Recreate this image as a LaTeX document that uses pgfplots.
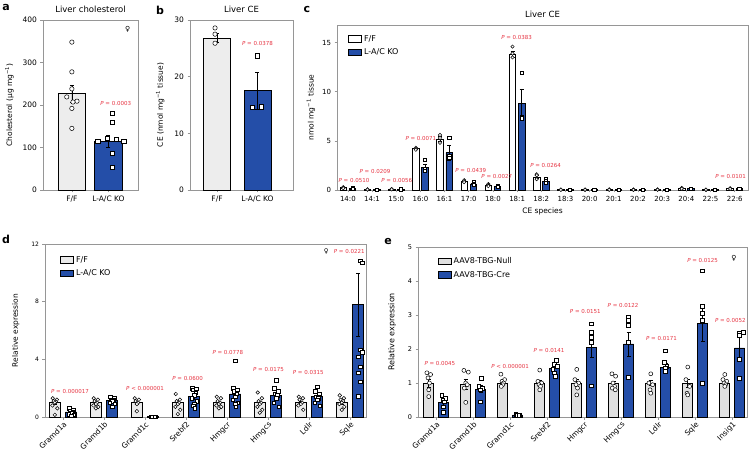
\documentclass[border=0pt]{standalone}
\usepackage{fontspec}
\setmainfont{DejaVu Sans}
\usepackage{pgfplots}
\pgfplotsset{compat=1.18}

\definecolor{kblue}{RGB}{36,78,168}
\definecolor{pred}{RGB}{230,52,66}
\definecolor{frame}{RGB}{150,150,150}
\newcommand{\fs}[1]{\fontsize{#1}{#1}\selectfont}

\tikzset{ptext/.style={font=\fs{5.5}, text=pred, inner sep=0pt}}

\pgfplotsset{
  panel/.style={
    scale only axis, anchor=south west, clip=false, ymin=0,
    axis line style={frame, line width=0.6pt},
    tick style={frame, line width=0.6pt},
    tick align=outside, major tick length=2.5pt,
    xtick pos=bottom, ytick pos=left,
    /pgf/number format/assume math mode=true,
    yticklabel style={font=\fs{7.5}},
    xticklabel style={font=\fs{7.5}},
    ylabel style={font=\fs{7.5}},
    title style={font=\fs{8.5}, yshift=-2pt},
  },
  bars/.style 2 args={ybar, bar shift=0pt, bar width=#2, fill=#1, draw=black,
    line width=0.8pt,
    error bars/y dir=both, error bars/y explicit,
    error bars/error bar style={black, line width=0.6pt},
    error bars/error mark options={black, mark size=2pt, line width=0.6pt, rotate=90}},
  wpt/.style={only marks, black, mark=*, mark size=#1,
    mark options={fill=white, draw=black, line width=0.5pt}},
  kpt/.style={only marks, black, mark=square*, mark size=#1,
    mark options={fill=white, draw=black, line width=0.5pt}},
  barleg/.style={
    legend image code/.code={\draw[##1] (0pt,-3pt) rectangle (13pt,3.5pt);},
    legend cell align=left,
    legend style={draw=none, fill=none, anchor=north west, font=\fs{8},
      row sep=2pt, inner sep=0pt}},
}

\begin{document}
\begin{tikzpicture}
\path[use as bounding box] (0,0) rectangle (750pt,453pt);

% panel letters
\node[font=\bfseries\fs{11}] at (6pt,445pt) {a};
\node[font=\bfseries\fs{11}] at (160pt,443pt) {b};
\node[font=\bfseries\fs{11}] at (307pt,443pt) {c};
\node[font=\bfseries\fs{11}] at (6pt,214pt) {d};
\node[font=\bfseries\fs{11}] at (388pt,212pt) {e};

% ---------- a ----------
\begin{axis}[panel, at={(43pt,263pt)}, width=95pt, height=170pt,
  xmin=-0.79, xmax=1.81, ymax=400, ytick={0,100,200,300,400},
  xtick={0,1}, xticklabels={F/F, L-A/C KO},
  title={Liver cholesterol}, ylabel={Cholesterol (µg mg\textsuperscript{−1})},
  ylabel style={xshift=0pt, yshift=2pt}]
\addplot[bars={black!7}{0.74}] coordinates {(0,227) +- (0,20)};
\addplot[bars={kblue}{0.74}] coordinates {(1,115) +- (0,14)};
\addplot[wpt=2.2pt] coordinates {(0,348)(0,278)(0,238)(-0.14,219)(0.14,209)(0.03,207)(0,192)(0,145)};
\addplot[kpt=2.1pt] coordinates {(1.1,180)(1.1,159)(0.96,122)(1.21,119)(1.42,115)(0.71,115)(1.1,87)(1.1,54)};
\node[ptext] at (1.2,204) {\textit{P} = 0.0003};
\node[font=\fs{7}] at (1.53,378) {♀};
\end{axis}

% ---------- b ----------
\begin{axis}[panel, at={(190pt,263pt)}, width=103pt, height=170pt,
  xmin=-0.67, xmax=1.88, ymax=30, ytick={0,10,20,30},
  xtick={0,1}, xticklabels={F/F, L-A/C KO},
  title={Liver CE}, ylabel={CE (nmol mg\textsuperscript{−1} tissue)},
  ylabel style={yshift=3pt}]
\addplot[bars={black!7}{0.67}] coordinates {(0,26.8) +- (0,0.8)};
\addplot[bars={kblue}{0.67}] coordinates {(1,17.5) +- (0,3.2)};
\addplot[wpt=2.2pt] coordinates {(-0.05,28.6)(-0.05,27.5)(-0.05,25.9)};
\addplot[kpt=2.1pt] coordinates {(1.0,23.7)(0.88,14.6)(1.1,14.7)};
\node[ptext] at (1,25.8) {\textit{P} = 0.0378};
\end{axis}

% ---------- c ----------
\begin{axis}[panel, barleg, at={(337pt,263pt)}, width=411pt, height=165pt,
  xmin=-0.45, xmax=16.55, ymax=16.8, ytick={0,5,10,15},
  xtick={0,...,16},
  xticklabels={14:0,14:1,15:0,16:0,16:1,17:0,18:0,18:1,18:2,18:3,20:0,20:1,20:2,20:3,20:4,22:5,22:6},
  xticklabel style={font=\fs{7}}, yticklabel style={font=\fs{7}},
  title={Liver CE}, xlabel={CE species}, xlabel style={font=\fs{7.5}},
  ylabel={nmol mg\textsuperscript{−1} tissue},
  legend style={at={(0.027,0.95)}}]
\addlegendimage{fill=white, draw=black, line width=0.8pt}
\addlegendentry{F/F}
\addlegendimage{fill=kblue, draw=black, line width=0.8pt}
\addlegendentry{L-A/C KO}
\addplot[forget plot, bars={white}{0.27}] coordinates {
(-0.19,0.22) +- (0,0.03) (0.81,0.05) +- (0,0.01) (1.81,0.08) +- (0,0.01)
(2.81,4.2) +- (0,0.06) (3.81,5.2) +- (0,0.25) (4.81,0.9) +- (0,0.06)
(5.81,0.5) +- (0,0.05) (6.81,13.8) +- (0,0.3) (7.81,1.3) +- (0,0.15)
(8.81,0.03) +- (0,0.01) (9.81,0.03) +- (0,0.01) (10.81,0.04) +- (0,0.01)
(11.81,0.03) +- (0,0.01) (12.81,0.04) +- (0,0.01) (13.81,0.15) +- (0,0.02)
(14.81,0.02) +- (0,0.01) (15.81,0.15) +- (0,0.02)};
\addplot[forget plot, bars={kblue}{0.27}] coordinates {
(0.19,0.15) +- (0,0.03) (1.19,0.05) +- (0,0.01) (2.19,0.08) +- (0,0.01)
(3.19,2.3) +- (0,0.35) (4.19,3.8) +- (0,0.8) (5.19,0.62) +- (0,0.08)
(6.19,0.4) +- (0,0.03) (7.19,8.8) +- (0,1.5) (8.19,0.9) +- (0,0.12)
(9.19,0.04) +- (0,0.01) (10.19,0.04) +- (0,0.01) (11.19,0.05) +- (0,0.01)
(12.19,0.03) +- (0,0.01) (13.19,0.04) +- (0,0.01) (14.19,0.12) +- (0,0.02)
(15.19,0.03) +- (0,0.01) (16.19,0.12) +- (0,0.02)};
\addplot[forget plot, wpt=1.7pt] coordinates {
(-0.19,0.28)(-0.19,0.22)(-0.19,0.18) (0.81,0.06)(0.81,0.05)(0.81,0.04)
(1.81,0.1)(1.81,0.08)(1.81,0.07) (2.81,4.3)(2.81,4.2)(2.81,4.1)
(3.81,5.6)(3.81,5.3)(3.81,4.8) (4.81,1.0)(4.81,0.9)(4.81,0.8)
(5.81,0.6)(5.81,0.5)(5.81,0.4) (6.81,14.6)(6.81,13.9)(6.81,13.5)
(7.81,1.6)(7.81,1.5)(7.81,1.1) (8.81,0.04)(8.81,0.03)(8.81,0.02)
(9.81,0.04)(9.81,0.03)(9.81,0.02) (10.81,0.05)(10.81,0.04)(10.81,0.03)
(11.81,0.04)(11.81,0.03)(11.81,0.02) (12.81,0.05)(12.81,0.04)(12.81,0.03)
(13.81,0.2)(13.81,0.15)(13.81,0.12) (14.81,0.03)(14.81,0.02)(14.81,0.02)
(15.81,0.18)(15.81,0.15)(15.81,0.12)};
\addplot[forget plot, kpt=1.6pt] coordinates {
(0.19,0.2)(0.19,0.15)(0.19,0.1) (1.19,0.06)(1.19,0.05)(1.19,0.04)
(2.19,0.1)(2.19,0.08)(2.19,0.07) (3.19,3.1)(3.19,2.2)(3.19,2.0)
(4.19,5.3)(4.19,3.5)(4.19,3.3) (5.19,0.8)(5.19,0.6)(5.19,0.5)
(6.19,0.45)(6.19,0.4)(6.19,0.35) (7.19,11.9)(7.19,7.4)(7.19,7.3)
(8.19,1.1)(8.19,0.9)(8.19,0.7) (9.19,0.05)(9.19,0.04)(9.19,0.03)
(10.19,0.05)(10.19,0.04)(10.19,0.03) (11.19,0.06)(11.19,0.05)(11.19,0.04)
(12.19,0.04)(12.19,0.03)(12.19,0.02) (13.19,0.05)(13.19,0.04)(13.19,0.03)
(14.19,0.15)(14.19,0.12)(14.19,0.1) (15.19,0.04)(15.19,0.03)(15.19,0.02)
(16.19,0.15)(16.19,0.12)(16.19,0.1)};
\node[ptext] at (0.25,1.0) {\textit{P} = 0.0510};
\node[ptext] at (1.12,1.84) {\textit{P} = 0.0209};
\node[ptext] at (2.02,0.92) {\textit{P} = 0.0056};
\node[ptext] at (3.02,5.2) {\textit{P} = 0.0071};
\node[ptext] at (5.08,1.94) {\textit{P} = 0.0439};
\node[ptext] at (6.16,1.33) {\textit{P} = 0.0027};
\node[ptext] at (6.98,15.5) {\textit{P} = 0.0383};
\node[ptext] at (8.18,2.45) {\textit{P} = 0.0264};
\node[ptext] at (15.83,1.33) {\textit{P} = 0.0101};
\end{axis}

% ---------- d ----------
\begin{axis}[panel, barleg, at={(45pt,36pt)}, width=321pt, height=173pt,
  xmin=-0.44, xmax=7.39, ymax=12, ytick={0,4,8,12},
  xtick={0,...,7},
  xticklabels={Gramd1a,Gramd1b,Gramd1c,Srebf2,Hmgcr,Hmgcs,Ldlr,Sqle},
  xticklabel style={font=\fs{7.5}, rotate=45, anchor=north east, inner sep=1pt},
  yticklabel style={font=\fs{6}},
  ylabel={Relative expression}, ylabel style={yshift=5pt},
  legend style={at={(0.047,0.94)}}]
\addlegendimage{fill=black!8, draw=black, line width=0.8pt}
\addlegendentry{F/F}
\addlegendimage{fill=kblue, draw=black, line width=0.8pt}
\addlegendentry{L-A/C KO}
\addplot[forget plot, bars={black!8}{0.27}] coordinates {
(-0.2,1.0) +- (0,0.12) (0.8,1.0) +- (0,0.08) (1.8,1.0) +- (0,0.1)
(2.8,1.0) +- (0,0.15) (3.8,1.0) +- (0,0.1) (4.8,1.0) +- (0,0.12)
(5.8,1.0) +- (0,0.08) (6.8,1.0) +- (0,0.12)};
\addplot[forget plot, bars={kblue}{0.27}] coordinates {
(0.2,0.35) +- (0,0.06) (1.2,1.15) +- (0,0.08) (2.2,0.02) +- (0,0.01)
(3.2,1.4) +- (0,0.15) (4.2,1.6) +- (0,0.3) (5.2,1.5) +- (0,0.17)
(6.2,1.4) +- (0,0.12) (7.2,7.8) +- (0,2.2)};
\addplot[forget plot, wpt=1.8pt] coordinates {
(-0.25,1.3)(-0.15,1.2)(-0.23,1.1)(-0.17,1.05)(-0.2,1.0)(-0.26,0.8)(-0.14,0.6)(-0.2,0.15)
(0.75,1.3)(0.85,1.2)(0.77,1.1)(0.83,1.0)(0.8,0.9)(0.74,0.8)(0.86,0.7)(0.8,0.6)
(1.75,1.3)(1.85,1.2)(1.77,1.1)(1.83,1.0)(1.8,0.9)(1.8,0.4)
(2.75,1.6)(2.85,1.2)(2.77,1.1)(2.83,1.0)(2.8,0.9)(2.74,0.7)(2.86,0.5)(2.8,0.2)
(3.75,1.4)(3.85,1.3)(3.77,1.1)(3.83,1.0)(3.8,0.9)(3.74,0.8)(3.86,0.7)(3.8,0.6)
(4.75,1.7)(4.85,1.3)(4.77,1.1)(4.83,1.0)(4.8,0.9)(4.74,0.7)(4.86,0.5)(4.8,0.3)
(5.75,1.4)(5.85,1.3)(5.77,1.2)(5.83,1.0)(5.8,0.9)(5.74,0.8)(5.86,0.5)
(6.75,1.5)(6.85,1.3)(6.77,1.2)(6.83,1.1)(6.8,1.0)(6.74,0.9)(6.86,0.7)(6.8,0.5)};
\addplot[forget plot, kpt=1.7pt] coordinates {
(0.15,0.6)(0.25,0.5)(0.17,0.4)(0.23,0.35)(0.2,0.3)(0.14,0.2)(0.26,0.15)(0.2,0.1)
(1.15,1.4)(1.25,1.3)(1.17,1.2)(1.23,1.15)(1.2,1.1)(1.14,1.0)(1.26,0.9)(1.2,0.7)
(2.15,0.03)(2.25,0.02)(2.2,0.02)(2.17,0.01)(2.23,0.03)
(3.15,2.0)(3.25,1.95)(3.17,1.9)(3.23,1.7)(3.2,1.5)(3.14,1.3)(3.26,1.1)(3.2,0.9)(3.18,0.8)(3.22,0.6)
(4.2,3.9)(4.15,2.0)(4.25,1.9)(4.17,1.8)(4.23,1.6)(4.2,1.4)(4.14,1.2)(4.26,1.0)(4.2,0.9)(4.22,0.7)
(5.2,2.55)(5.15,2.0)(5.25,1.8)(5.17,1.6)(5.23,1.5)(5.2,1.3)(5.14,1.0)(5.26,0.7)
(6.2,2.1)(6.15,1.8)(6.25,1.6)(6.17,1.4)(6.23,1.3)(6.2,1.2)(6.14,1.0)(6.26,0.8)
(7.25,10.85)(7.3,10.7)(7.25,4.65)(7.3,4.5)(7.2,4.2)(7.25,3.5)(7.2,3.05)(7.25,2.45)(7.2,1.45)};
\node[ptext] at (0.17,1.8) {\textit{P} = 0.000017};
\node[ptext] at (2.0,1.95) {\textit{P} < 0.000001};
\node[ptext] at (3.04,2.7) {\textit{P} = 0.0600};
\node[ptext] at (4.02,4.5) {\textit{P} = 0.0778};
\node[ptext] at (5.01,3.3) {\textit{P} = 0.0175};
\node[ptext] at (5.98,3.1) {\textit{P} = 0.0315};
\node[ptext] at (6.98,11.5) {\textit{P} = 0.0221};
\node[font=\fs{6.5}] at (6.42,11.5) {♀};
\end{axis}

% ---------- e ----------
\begin{axis}[panel, barleg, at={(418pt,36pt)}, width=329pt, height=170pt,
  xmin=-0.49, xmax=8.4, ymax=5, ytick={0,1,2,3,4,5},
  xtick={0,...,8},
  xticklabels={Gramd1a,Gramd1b,Gramd1c,Srebf2,Hmgcr,Hmgcs,Ldlr,Sqle,Insig1},
  xticklabel style={font=\fs{7.5}, rotate=45, anchor=north east, inner sep=1pt},
  yticklabel style={font=\fs{6.5}},
  ylabel={Relative expression}, ylabel style={font=\fs{8}, yshift=5pt},
  legend style={at={(0.06,0.95)}}]
\addlegendimage{fill=black!12, draw=black, line width=0.8pt}
\addlegendentry{AAV8-TBG-Null}
\addlegendimage{fill=kblue, draw=black, line width=0.8pt}
\addlegendentry{AAV8-TBG-Cre}
\addplot[forget plot, bars={black!12}{0.27}] coordinates {
(-0.2,1.0) +- (0,0.12) (0.8,0.97) +- (0,0.15) (1.8,1.0) +- (0,0.05)
(2.8,1.0) +- (0,0.08) (3.8,1.0) +- (0,0.1) (4.8,0.98) +- (0,0.07)
(5.8,1.0) +- (0,0.08) (6.8,0.98) +- (0,0.12) (7.8,1.0) +- (0,0.05)};
\addplot[forget plot, bars={kblue}{0.27}] coordinates {
(0.2,0.42) +- (0,0.07) (1.2,0.82) +- (0,0.1) (2.2,0.06) +- (0,0.01)
(3.2,1.43) +- (0,0.08) (4.2,2.05) +- (0,0.3) (5.2,2.15) +- (0,0.35)
(6.2,1.47) +- (0,0.11) (7.2,2.74) +- (0,0.5) (8.2,2.03) +- (0,0.3)};
\addplot[forget plot, wpt=2pt] coordinates {
(-0.25,1.3)(-0.15,1.25)(-0.22,1.15)(-0.18,1.0)(-0.2,0.8)(-0.2,0.6)
(0.75,1.37)(0.87,1.32)(0.8,1.0)(0.84,0.95)(0.76,0.85)(0.8,0.43)
(1.75,1.26)(1.85,1.1)(1.78,1.05)(1.82,1.0)(1.8,0.95)(1.76,0.9)
(2.8,1.38)(2.75,1.05)(2.85,1.0)(2.78,0.95)(2.82,0.9)(2.8,0.8)
(3.8,1.4)(3.75,1.1)(3.85,1.0)(3.78,0.95)(3.82,0.85)(3.8,0.65)
(4.75,1.27)(4.85,1.2)(4.78,1.0)(4.82,0.9)(4.76,0.85)(4.84,0.8)
(5.8,1.27)(5.75,1.0)(5.85,0.95)(5.78,0.8)(5.8,0.7)
(6.8,1.47)(6.75,1.1)(6.85,0.9)(6.78,0.7)(6.8,0.65)
(7.8,1.25)(7.75,1.1)(7.85,1.05)(7.78,1.0)(7.82,0.95)(7.8,0.9)};
\addplot[forget plot, kpt=1.9pt] coordinates {
(0.15,0.65)(0.25,0.55)(0.18,0.5)(0.22,0.45)(0.2,0.3)(0.2,0.15)
(1.22,1.15)(1.15,0.9)(1.25,0.85)(1.2,0.8)(1.2,0.45)
(2.15,0.08)(2.25,0.06)(2.2,0.05)(2.18,0.04)(2.23,0.04)
(3.25,1.68)(3.2,1.55)(3.28,1.5)(3.15,1.4)(3.2,1.3)(3.22,1.2)
(4.2,2.74)(4.2,2.5)(4.2,2.35)(4.2,2.2)(4.2,0.92)
(5.2,2.93)(5.2,2.85)(5.2,2.7)(5.2,2.2)(5.2,1.16)
(6.2,1.95)(6.17,1.6)(6.23,1.5)(6.2,1.45)(6.2,1.35)
(7.2,4.3)(7.2,3.25)(7.2,3.05)(7.2,2.85)(7.2,1.0)
(8.2,2.47)(8.3,2.5)(8.2,2.4)(8.2,1.7)(8.2,1.15)};
\node[ptext] at (0.1,1.58) {\textit{P} = 0.0045};
\node[ptext] at (2.0,1.5) {\textit{P} < 0.000001};
\node[ptext] at (3.05,1.97) {\textit{P} = 0.0141};
\node[ptext] at (4.03,3.1) {\textit{P} = 0.0151};
\node[ptext] at (5.05,3.29) {\textit{P} = 0.0122};
\node[ptext] at (6.09,2.3) {\textit{P} = 0.0171};
\node[ptext] at (7.2,4.6) {\textit{P} = 0.0125};
\node[ptext] at (7.95,2.83) {\textit{P} = 0.0052};
\node[font=\fs{7}] at (8.05,4.68) {♀};
\end{axis}
\end{tikzpicture}
\end{document}
